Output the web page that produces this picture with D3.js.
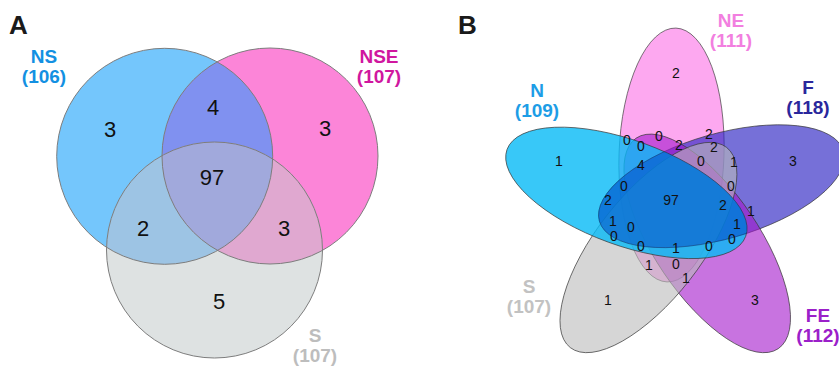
<!DOCTYPE html>
<html>
<head>
<meta charset="utf-8">
<script src="https://cdn.jsdelivr.net/npm/d3@7"></script>
<style>
  body { margin: 0; background: #fff; }
  svg { display: block; }
  .panel-tag { font-family: "Liberation Sans", Arial, sans-serif; font-weight: bold; }
  .set-name { font-family: "Liberation Sans Narrow", "Liberation Sans", Arial, sans-serif; font-weight: bold; }
  .count { font-family: "Liberation Sans", Arial, sans-serif; fill: #111; }
</style>
</head>
<body>
<svg id="chart" width="839" height="367"></svg>
<script>
// ---------- Panel A: three-set Venn ----------
const setsA = ["NS", "NSE", "S"];
const totalsA = [106, 107, 107];
const setColorsA = ["#1390e2", "#d0179f", "#bdbdbd"];
// region membership (NS, NSE, S) and gene counts
const regionKeysA = ["100", "010", "001", "110", "101", "011", "111"];
const regionCountsA = [3, 3, 5, 4, 2, 3, 97];
const regionFillsA = ["#74c6fc", "#fc85d8", "#dee2e2", "#8091f0", "#9dc4e4", "#e0a8d0", "#a1a9dc"];

// ---------- Panel B: five-set Venn ----------
const setsB = ["NE", "F", "FE", "S", "N"];
const totalsB = [111, 118, 112, 107, 109];
const setColorsB = ["#f27fe0", "#2a279c", "#9b20c9", "#c2c2c2", "#1d9de6"];
const ellipseFillsB = ["#fb51e1", "#2c23c3", "#a316cb", "#bbbbbb", "#06baf6"];
const ellipseAlphaB = [0.5, 0.65, 0.6, 0.6, 0.8];
// counts in every region of the five-set diagram
const regionCountsB = [2, 1, 3, 1, 3,
  0, 0, 0, 2, 2, 2, 0, 1, 4, 0, 0, 2, 97, 2, 1, 1, 0, 1, 0, 0, 0, 1, 0, 1, 0, 1];

const svg = d3.select("#chart");
const defs = svg.append("defs");

// ---- layout of panel A ----
const circlesA = [
  { cx: 164.7, cy: 156.3 },
  { cx: 270.0, cy: 156.0 },
  { cx: 214.5, cy: 250.0 }
];
const rA = 108;
const labelSpotsA = [[110, 129], [325, 128], [219, 301], [213, 107], [143, 228], [284, 228], [212, 177]];

const gA = svg.append("g");

// clip path for every combination of circles (intersection of members)
const madeClips = new Set();
function ensureClipA(members) {
  const id = "clipA-" + members.join("");
  if (madeClips.has(id)) return id;
  const inner = members.slice(0, -1);
  const last = members[members.length - 1];
  const innerId = inner.length ? ensureClipA(inner) : null;
  const c = defs.append("clipPath").attr("id", id).append("circle")
    .attr("cx", circlesA[last].cx).attr("cy", circlesA[last].cy).attr("r", rA);
  if (innerId) c.attr("clip-path", `url(#${innerId})`);
  madeClips.add(id);
  return id;
}

// fill regions from single sets up to the triple overlap
regionKeysA.forEach((key, i) => {
  const members = key.split("").map((b, j) => b === "1" ? j : -1).filter(j => j >= 0);
  const last = members[members.length - 1];
  const rest = members.slice(0, -1);
  const c = gA.append("circle")
    .attr("cx", circlesA[last].cx).attr("cy", circlesA[last].cy).attr("r", rA)
    .attr("fill", regionFillsA[i]);
  if (rest.length) c.attr("clip-path", `url(#${ensureClipA(rest)})`);
});

gA.selectAll("circle.outline").data(circlesA).join("circle")
  .attr("class", "outline")
  .attr("cx", d => d.cx).attr("cy", d => d.cy).attr("r", rA)
  .attr("fill", "none").attr("stroke", "#7d7d7d").attr("stroke-width", 1);

gA.selectAll("text.count").data(regionCountsA).join("text")
  .attr("class", "count")
  .attr("x", (d, i) => labelSpotsA[i][0])
  .attr("y", (d, i) => labelSpotsA[i][1] + 8)
  .attr("text-anchor", "middle")
  .attr("font-size", 22)
  .text(d => d);

// set names with their totals underneath
function setName(g, x, y, name, total, color) {
  g.append("text").attr("class", "set-name").attr("text-anchor", "middle")
    .attr("fill", color).attr("font-size", 19).attr("x", x).attr("y", y).text(name);
  g.append("text").attr("class", "set-name").attr("text-anchor", "middle")
    .attr("fill", color).attr("font-size", 19).attr("x", x).attr("y", y + 20).text(`(${total})`);
}

const nameSpotsA = [[44, 63], [379, 63], [315, 342]];
setsA.forEach((s, i) => setName(gA, nameSpotsA[i][0], nameSpotsA[i][1], s, totalsA[i], setColorsA[i]));

svg.append("text").attr("class", "panel-tag").attr("x", 9).attr("y", 34)
  .attr("font-size", 26).attr("fill", "#1a1a1a").text("A");

// ---- layout of panel B ----
const centerB = [675, 205];
const petal = { dx: -3.5, dy: -50, rx: 52.5, ry: 127, tilt: 2 };
const petalTransform = i => `rotate(${i * 72}) translate(${petal.dx},${petal.dy}) rotate(${petal.tilt})`;
const gB = svg.append("g").attr("transform", `translate(${centerB[0]},${centerB[1]})`);

gB.selectAll("ellipse.petal").data(setsB).join("ellipse")
  .attr("class", "petal")
  .attr("transform", (d, i) => petalTransform(i))
  .attr("rx", petal.rx).attr("ry", petal.ry)
  .attr("fill", (d, i) => ellipseFillsB[i])
  .attr("fill-opacity", (d, i) => ellipseAlphaB[i])
  .attr("stroke", "#3a3a3a").attr("stroke-opacity", 0.75).attr("stroke-width", 0.9);

// deeper blue where N and F overlap
const iN = setsB.indexOf("N"), iF = setsB.indexOf("F");
defs.append("clipPath").attr("id", "clipB-N")
  .append("ellipse").attr("transform", `translate(${centerB[0]},${centerB[1]}) ` + petalTransform(iN))
  .attr("rx", petal.rx).attr("ry", petal.ry);
svg.append("g").attr("clip-path", "url(#clipB-N)")
  .append("ellipse")
  .attr("transform", `translate(${centerB[0]},${centerB[1]}) ` + petalTransform(iF))
  .attr("rx", petal.rx).attr("ry", petal.ry)
  .attr("fill", "#003cbe").attr("fill-opacity", 0.45)
  .attr("stroke", "#1a2a60").attr("stroke-opacity", 0.5).attr("stroke-width", 0.9);

const labelSpotsB = [
  [676, 73], [559, 161], [793, 161], [608, 300], [755, 300],
  [627, 140], [641, 146], [659, 136], [679, 145], [709, 134], [714, 147], [701, 161], [734, 162],
  [641, 165], [624, 186], [731, 186], [608, 200], [671, 200], [723, 205], [751, 211],
  [613, 221], [631, 227], [737, 224], [614, 236], [732, 239], [641, 246], [676, 248],
  [709, 246], [649, 265], [676, 264], [686, 278]
];
svg.append("g").selectAll("text").data(regionCountsB).join("text")
  .attr("class", "count")
  .attr("x", (d, i) => labelSpotsB[i][0])
  .attr("y", (d, i) => labelSpotsB[i][1] + 5)
  .attr("text-anchor", "middle")
  .attr("font-size", 14)
  .text(d => d);

const nameSpotsB = [[731, 27], [808, 94], [818, 322], [529, 293], [537, 97]];
const gNamesB = svg.append("g");
setsB.forEach((s, i) => setName(gNamesB, nameSpotsB[i][0], nameSpotsB[i][1], s, totalsB[i], setColorsB[i]));

svg.append("text").attr("class", "panel-tag").attr("x", 458).attr("y", 34)
  .attr("font-size", 26).attr("fill", "#1a1a1a").text("B");
</script>
</body>
</html>
